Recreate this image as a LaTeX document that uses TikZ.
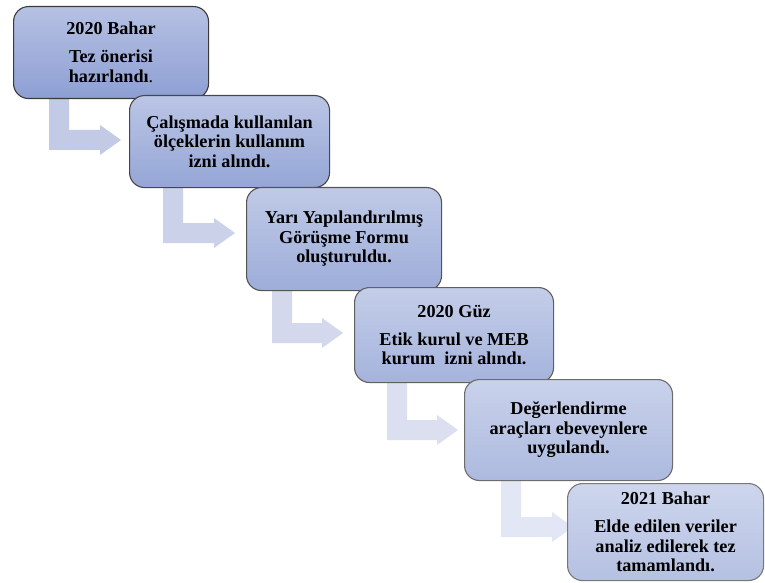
\documentclass[tikz,border=0pt]{standalone}
\usepackage{fontspec}
\setmainfont{Liberation Serif}
\usetikzlibrary{calc,backgrounds}
\definecolor{c1t}{HTML}{B6C1E3}\definecolor{c1b}{HTML}{8D9FD3}\definecolor{c1d}{HTML}{3A3A3A}
\definecolor{c2t}{HTML}{BBC5E5}\definecolor{c2b}{HTML}{95A6D6}\definecolor{c2d}{HTML}{474747}
\definecolor{c3t}{HTML}{C0CAE7}\definecolor{c3b}{HTML}{9DADD9}\definecolor{c3d}{HTML}{545454}
\definecolor{c4t}{HTML}{C4CEE9}\definecolor{c4b}{HTML}{A5B3DC}\definecolor{c4d}{HTML}{606060}
\definecolor{c5t}{HTML}{C9D2EB}\definecolor{c5b}{HTML}{ADBADF}\definecolor{c5d}{HTML}{6C6C6C}
\definecolor{c6t}{HTML}{CED6ED}\definecolor{c6b}{HTML}{B5C1E2}\definecolor{c6d}{HTML}{787878}
\definecolor{a1}{HTML}{C3CAE6}\definecolor{a2}{HTML}{CBD1E9}\definecolor{a3}{HTML}{D3D8ED}
\definecolor{a4}{HTML}{DBDFF0}\definecolor{a5}{HTML}{E3E6F4}
\tikzset{
  stage/.style={draw, line width=1.1bp, rounded corners=15bp, anchor=north west,
    inner sep=0pt, align=center, text=black,
    font=\bfseries\fontsize{18.2bp}{19.5bp}\selectfont},
}
% #1 colour, #2 upper box, #3 lower box, #4 bar offset from left of upper box,
% #5,#6 tip offset from north west corner of lower box
\newcommand\stagearrow[6]{%
  \fill[#1] let \p1=($(#2.south west)+(#4,-3)$), \p2=($(#3.north west)+(#5,#6)$) in
    (\x1,\y1) -- ({\x1+20bp},\y1) -- ({\x1+20bp},{\y2+10bp}) -- ({\x2-21bp},{\y2+10bp})
    -- ({\x2-21bp},{\y2+15bp}) -- (\x2,\y2) -- ({\x2-21bp},{\y2-15bp})
    -- ({\x2-21bp},{\y2-10bp}) -- (\x1,{\y2-10bp}) -- cycle;}
\begin{document}
\begin{tikzpicture}[x=1bp,y=-1bp]
\useasboundingbox (0,0) rectangle (765,583);
\node[stage, minimum width=195bp, minimum height=92bp, top color=c1t, bottom color=c1b, draw=c1d]
  (b1) at (13,6) {2020 Bahar\\[8.5bp]Tez önerisi\\hazırlandı{\mdseries.}};
\node[stage, minimum width=200bp, minimum height=92bp, top color=c2t, bottom color=c2b, draw=c2d]
  (b2) at (129,95) {Çalışmada kullanılan\\ölçeklerin kullanım\\izni alındı.};
\node[stage, minimum width=195bp, minimum height=103bp, top color=c3t, bottom color=c3b, draw=c3d]
  (b3) at (246,187) {Yarı Yapılandırılmış\\Görüşme Formu\\oluşturuldu.};
\node[stage, minimum width=199bp, minimum height=95bp, top color=c4t, bottom color=c4b, draw=c4d]
  (b4) at (354,287) {2020 Güz\\[8.5bp]Etik kurul ve MEB\\kurum\ \ izni alındı.};
\node[stage, minimum width=208bp, minimum height=101bp, top color=c5t, bottom color=c5b, draw=c5d]
  (b5) at (464,379) {Değerlendirme\\araçları ebeveynlere\\uygulandı.};
\node[stage, minimum width=196bp, minimum height=97bp, top color=c6t, bottom color=c6b, draw=c6d]
  (b6) at (567,483) {2021 Bahar\\[8.5bp]Elde edilen veriler\\analiz edilerek tez\\tamamlandı.};
\begin{scope}[on background layer]
  \stagearrow{a1}{b1}{b2}{36}{-8}{45}
  \stagearrow{a2}{b2}{b3}{34}{-11}{46}
  \stagearrow{a3}{b3}{b4}{26}{-11}{46}
  \stagearrow{a4}{b4}{b5}{33}{-6}{51}
  \stagearrow{a5}{b5}{b6}{37}{6}{44}
\end{scope}
\end{tikzpicture}
\end{document}
